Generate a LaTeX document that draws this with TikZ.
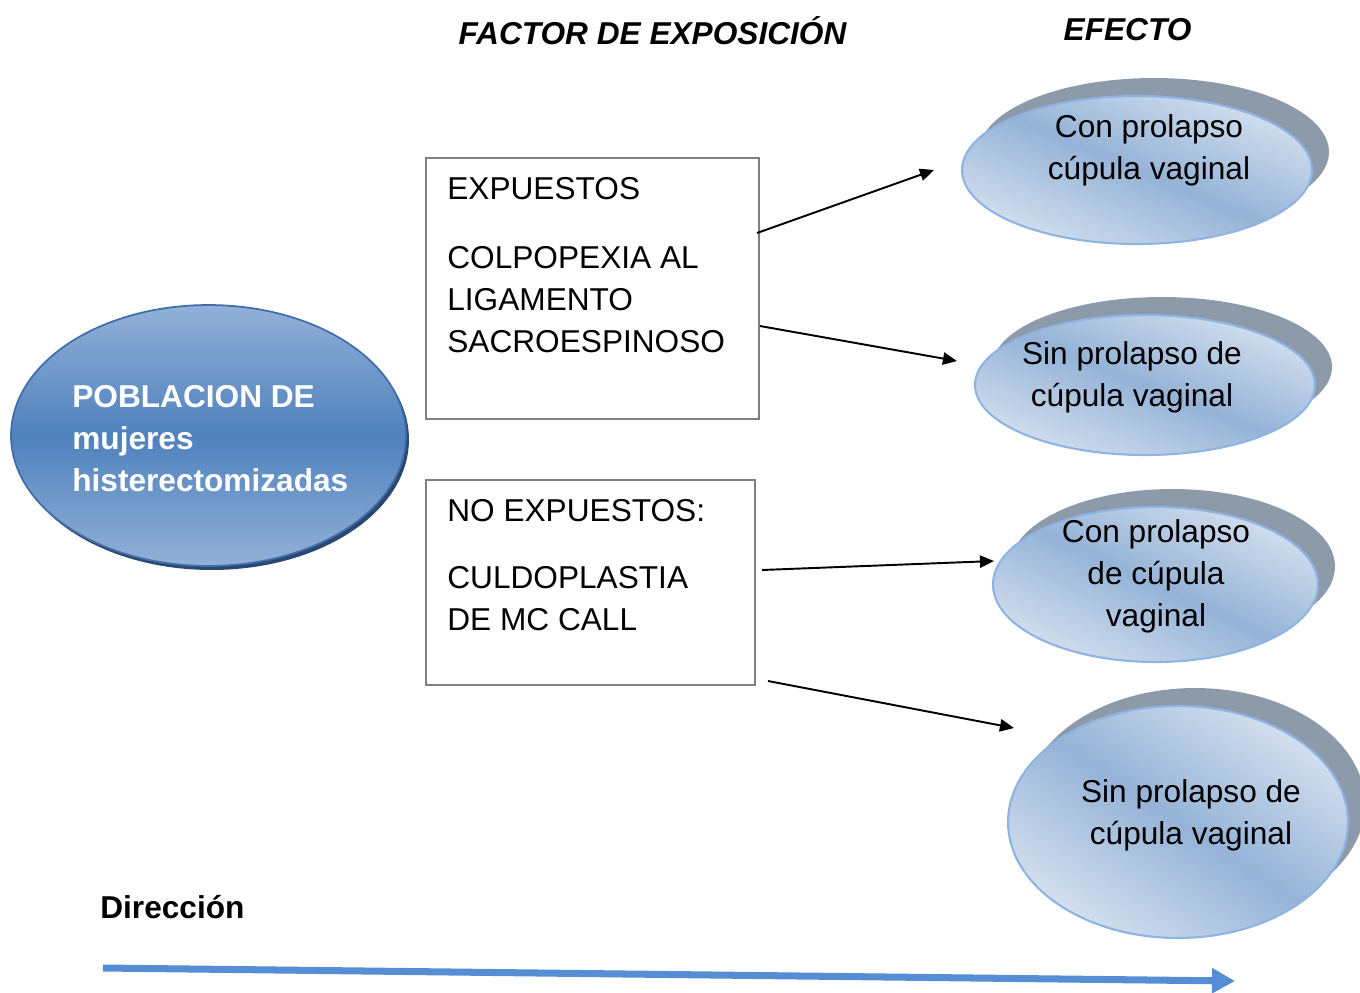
\documentclass[tikz,border=0pt]{standalone}
\usepackage{fontspec}
\setmainfont{Liberation Sans}
\usepackage{tikz}
\usetikzlibrary{arrows.meta,shapes.geometric,shadows}
\definecolor{pobclaro}{HTML}{93B1D8}
\definecolor{poboscuro}{HTML}{4F81BD}
\definecolor{pobborde}{HTML}{3F6EAA}
\definecolor{pobsombra}{HTML}{2A4870}
\definecolor{efclaro}{HTML}{D3DFEE}
\definecolor{efoscuro}{HTML}{95B3D7}
\definecolor{efborde}{HTML}{8EB4E3}
\definecolor{efsombra}{HTML}{8D9AAA}
\definecolor{cajagris}{HTML}{7F7F7F}
\definecolor{flechaazul}{HTML}{558ED5}

\begin{document}
\begin{tikzpicture}[x=0.02cm,y=-0.02cm]
		\tikzset{> = {Triangle[length=8pt,width=7pt]}}
		\tikzset{texto/.style = {font=\fontsize{18}{23.8}\selectfont, inner sep=0pt},
			efecto/.style = {ellipse, draw=efborde, line width=1.2pt, top color=efclaro, bottom color=efclaro, middle color=efoscuro, drop shadow={shadow xshift=0.34cm, shadow yshift=0.36cm, fill=efsombra, opacity=1}},
			caja/.style = {draw=cajagris, line width=1.1pt, inner sep=0pt},
			flecha/.style = {->, line width=1.1pt}}
		\useasboundingbox (0,0) rectangle (1360,992);
		\node[ellipse, draw=pobborde, line width=1pt, top color=pobclaro, bottom color=pobclaro, middle color=poboscuro, minimum width=7.9cm, minimum height=5.22cm, drop shadow={shadow xshift=0.06cm, shadow yshift=-0.08cm, fill=pobsombra, opacity=1}] (poblacion) at (208.5,435.5){};
		\node[efecto, shading angle=-23, minimum width=7cm, minimum height=2.96cm] (con1) at (1137,170){};
		\node[efecto, shading angle=-22, minimum width=6.8cm, minimum height=2.8cm] (sin1) at (1145,385){};
		\node[efecto, shading angle=-25, minimum width=6.5cm, minimum height=3.1cm] (con2) at (1155.5,584.5){};
		\node[efecto, shading angle=-34, minimum width=6.8cm, minimum height=4.64cm] (sin2) at (1178,822){};
		\node[caja, minimum width=6.66cm, minimum height=5.22cm] (expuestos) at (592.5,288.5){};
		\node[caja, minimum width=6.58cm, minimum height=4.1cm] (noexpuestos) at (590.5,582.5){};
		\node[texto, font=\fontsize{18}{23.8}\selectfont\bfseries\itshape, anchor=base] (factor) at (652.5,44){FACTOR DE EXPOSICIÓN};
		\node[texto, font=\fontsize{18}{23.8}\selectfont\bfseries\itshape, anchor=base] (efectotit) at (1127.5,40){EFECTO};
		\node[texto, font=\fontsize{18}{24.1}\selectfont\bfseries, text=white, align=left, anchor=north west] (pobtexto) at (72,384.6){POBLACION DE\\mujeres\\histerectomizadas};
		\node[texto, align=left, anchor=north west] (exptexto) at (447,176.6){EXPUESTOS\\[16pt]COLPOPEXIA AL\\LIGAMENTO\\SACROESPINOSO};
		\node[texto, align=left, anchor=north west] (noexptexto) at (447,498.6){NO EXPUESTOS:\\[14.7pt]CULDOPLASTIA\\DE MC CALL};
		\node[texto, align=center] (con1texto) at (1149,150){Con prolapso\\cúpula vaginal};
		\node[texto, align=center] (sin1texto) at (1132,377.5){Sin prolapso de\\cúpula vaginal};
		\node[texto, align=center] (con2texto) at (1156,576){Con prolapso\\de cúpula\\vaginal};
		\node[texto, align=center] (sin2texto) at (1191,815){Sin prolapso de\\cúpula vaginal};
		\node[texto, font=\fontsize{18}{23.8}\selectfont\bfseries, anchor=base west] (direccion) at (100,918){Dirección};
		\coordinate (e1) at (757,233);
		\coordinate (f1) at (934,170);
		\coordinate (e2) at (760,326);
		\coordinate (f2) at (957,361);
		\coordinate (e3) at (762,570);
		\coordinate (f3) at (994,561);
		\coordinate (e4) at (768,681);
		\coordinate (f4) at (1014,728);
		\coordinate (d1) at (103,968);
		\coordinate (d2) at (1235,981);
		\draw[flecha] (e1) -- (f1);
		\draw[flecha] (e2) -- (f2);
		\draw[flecha] (e3) -- (f3);
		\draw[flecha] (e4) -- (f4);
		\draw[flechaazul, line width=4pt, -{Triangle[length=0.46cm,width=0.48cm]}] (d1) -- (d2);
	\end{tikzpicture}
\end{document}
